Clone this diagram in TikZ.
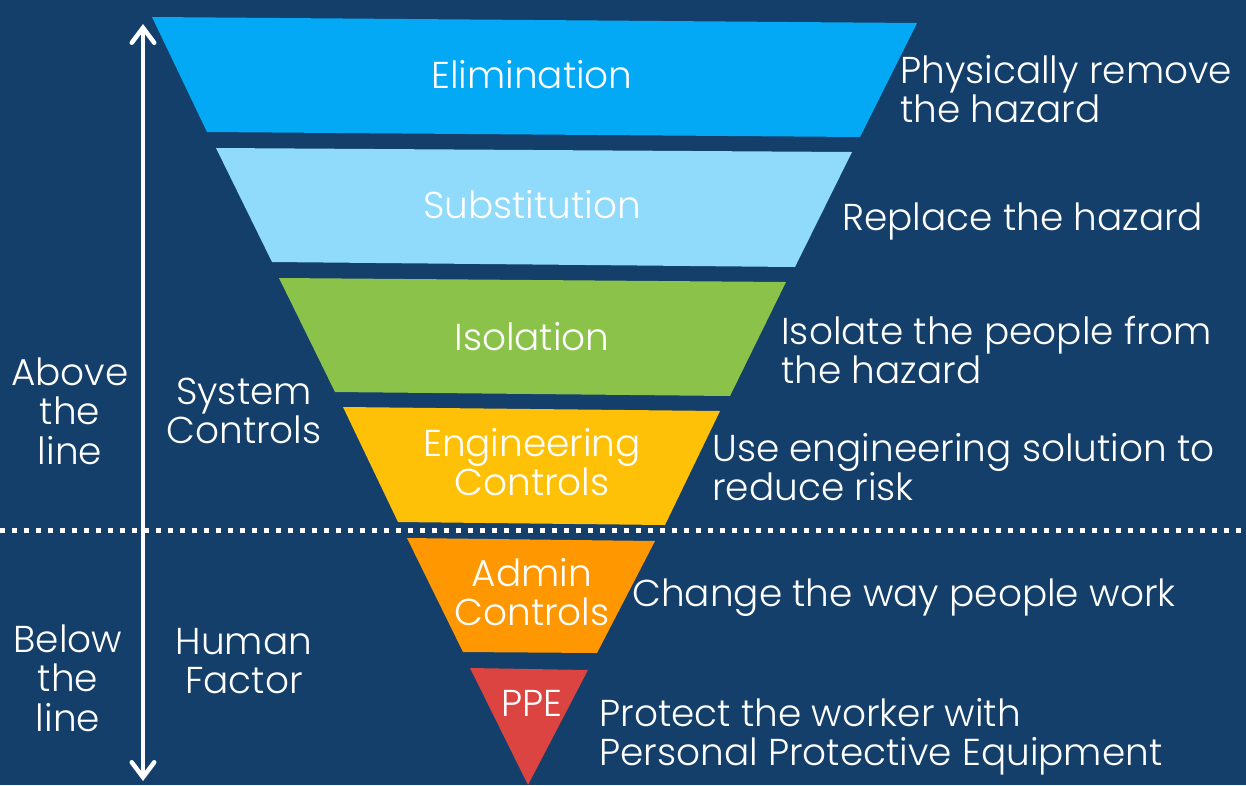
\documentclass[tikz,border=0pt]{standalone}
\usepackage{fontspec}
\setmainfont{Poppins Light}
\usetikzlibrary{arrows.meta}
\definecolor{bg}{HTML}{143F6B}
\definecolor{celim}{HTML}{03A9F4}
\definecolor{csubs}{HTML}{90DAFB}
\definecolor{ciso}{HTML}{8BC34A}
\definecolor{ceng}{HTML}{FFC107}
\definecolor{cadm}{HTML}{FF9800}
\definecolor{cppe}{HTML}{DB4440}
\tikzset{
  lvl/.style={white,font=\fontsize{21.3}{22.4}\selectfont,align=center,inner sep=0pt},
  desc/.style={white,font=\fontsize{21.3}{22.4}\selectfont,align=left,anchor=west,inner sep=0pt},
  side/.style={white,font=\fontsize{21.3}{22.4}\selectfont,align=center,inner sep=0pt},
}
\begin{document}
\begin{tikzpicture}[x=0.02cm,y=-0.02cm]
\fill[bg] (0,0) rectangle (1246,785);
\useasboundingbox (0,0) rectangle (1246,785);
% funnel levels
\fill[celim] (152,17) -- (917,23) -- (860,137) -- (207,132) -- cycle;
\fill[csubs] (216,148) -- (852,152) -- (795,267) -- (272,262) -- cycle;
\fill[ciso] (279,278) -- (786,282) -- (730,396) -- (335,392) -- cycle;
\fill[ceng] (343,407) -- (720,411) -- (665,525) -- (398,522) -- cycle;
\fill[cadm] (407,538) -- (655,541) -- (597,653) -- (463,652) -- cycle;
\fill[cppe] (470,668) -- (588,670) -- (528,785) -- cycle;
% dotted line
\coordinate (dl) at (0,530);
\coordinate (dr) at (1246,530);
\draw[white,line width=0.1cm,dash pattern=on 0.1cm off 0.14cm] (dl) -- (dr);
% arrow
\coordinate (atop) at (143,24);
\coordinate (abot) at (143,781);
\draw[white,line width=0.09cm,line cap=round,{Straight Barb[length=0.3cm,width=0.45cm,line cap=round]}-{Straight Barb[length=0.3cm,width=0.45cm,line cap=round]}] (atop) -- (abot);
% level labels
\node[lvl] (elim) at (532,75) {Elimination};
\node[lvl] (subs) at (532,205) {Substitution};
\node[lvl] (iso) at (532,337) {Isolation};
\node[lvl] (eng) at (532,462) {Engineering\\Controls};
\node[lvl] (adm) at (532,592) {Admin\\Controls};
\node[lvl] (ppe) at (532,703) {PPE};
% descriptions
\node[desc] (d1) at (900,89) {Physically remove\\the hazard};
\node[desc] (d2) at (842,221) {Replace the hazard};
\node[desc] (d3) at (781,350) {Isolate the people from\\the hazard};
\node[desc] (d4) at (712,467) {Use engineering solution to\\reduce risk};
\node[desc] (d5) at (632,598) {Change the way people work};
\node[desc] (d6) at (599,737) {Protect the worker with\\Personal Protective Equipment};
% side labels
\node[side] (above) at (70,411) {Above\\the\\line};
\node[side] (sys) at (244,411) {System\\Controls};
\node[side] (below) at (68,678) {Below\\the\\line};
\node[side] (hum) at (244,661) {Human\\Factor};
\end{tikzpicture}
\end{document}
